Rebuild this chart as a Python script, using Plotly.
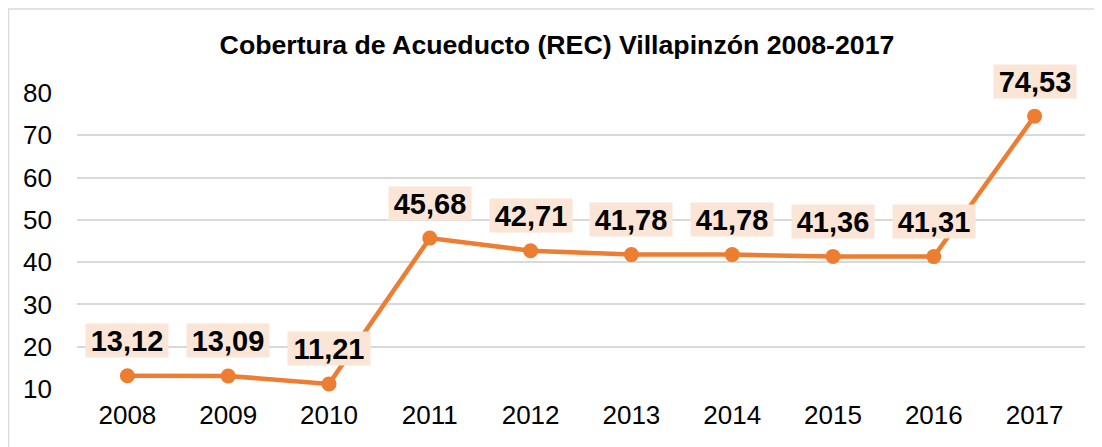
import plotly.graph_objects as go

years = [2008, 2009, 2010, 2011, 2012, 2013, 2014, 2015, 2016, 2017]
coverage = [13.12, 13.09, 11.21, 45.68, 42.71, 41.78, 41.78, 41.36, 41.31, 74.53]
labels = [f"{v:.2f}".replace(".", ",") for v in coverage]
y_ticks = [10, 20, 30, 40, 50, 60, 70, 80]

FONT = "Liberation Sans, Arial, sans-serif"
ORANGE = "#ED7D31"
PEACH = "#FBE5D6"
GRID = "#D9D9D9"

fig = go.Figure()
fig.add_trace(go.Scatter(
    x=years, y=coverage, mode="lines+markers",
    line=dict(color=ORANGE, width=4.5),
    marker=dict(color=ORANGE, size=15),
    cliponaxis=False, showlegend=False, hoverinfo="skip",
))

for x, y, t in zip(years, coverage, labels):
    fig.add_annotation(
        x=x, y=y, text=f"<b>{t}</b>", showarrow=False, yshift=35,
        font=dict(family=FONT, size=29, color="black"),
        bgcolor=PEACH, borderpad=0, width=82, height=33,
    )

# chart border (page is offset by the 8px body margin)
fig.add_shape(type="rect", xref="paper", yref="paper",
              x0=-0.068, x1=1.0099, y0=-0.25, y1=1.2838,
              line=dict(color=GRID, width=1.5), fillcolor="rgba(0,0,0,0)", layer="below")

fig.update_layout(
    width=1102, height=447,
    margin=dict(l=69, r=25, t=85, b=66),
    paper_bgcolor="white", plot_bgcolor="white",
    font=dict(family=FONT, color="black"),
    title=dict(text="<b>Cobertura de Acueducto (REC) Villapinzón 2008-2017</b>",
               x=549 / 1102, xref="container", xanchor="center",
               y=1 - 37 / 447, yref="container", yanchor="middle",
               font=dict(family=FONT, size=26.7, color="black")),
    xaxis=dict(range=[2007.5, 2017.5], tickvals=years, ticktext=[str(y) for y in years],
               showgrid=False, zeroline=False, showline=False,
               ticks="", tickfont=dict(family=FONT, size=26, color="black"),
               ticklabelstandoff=8),
    yaxis=dict(range=[10, 80], tickvals=y_ticks, showgrid=True, gridcolor=GRID,
               gridwidth=1.5, zeroline=False, showline=False, ticks="",
               tickfont=dict(family=FONT, size=26, color="black"),
               ticklabelstandoff=24),
)

fig.write_html("out.html")
